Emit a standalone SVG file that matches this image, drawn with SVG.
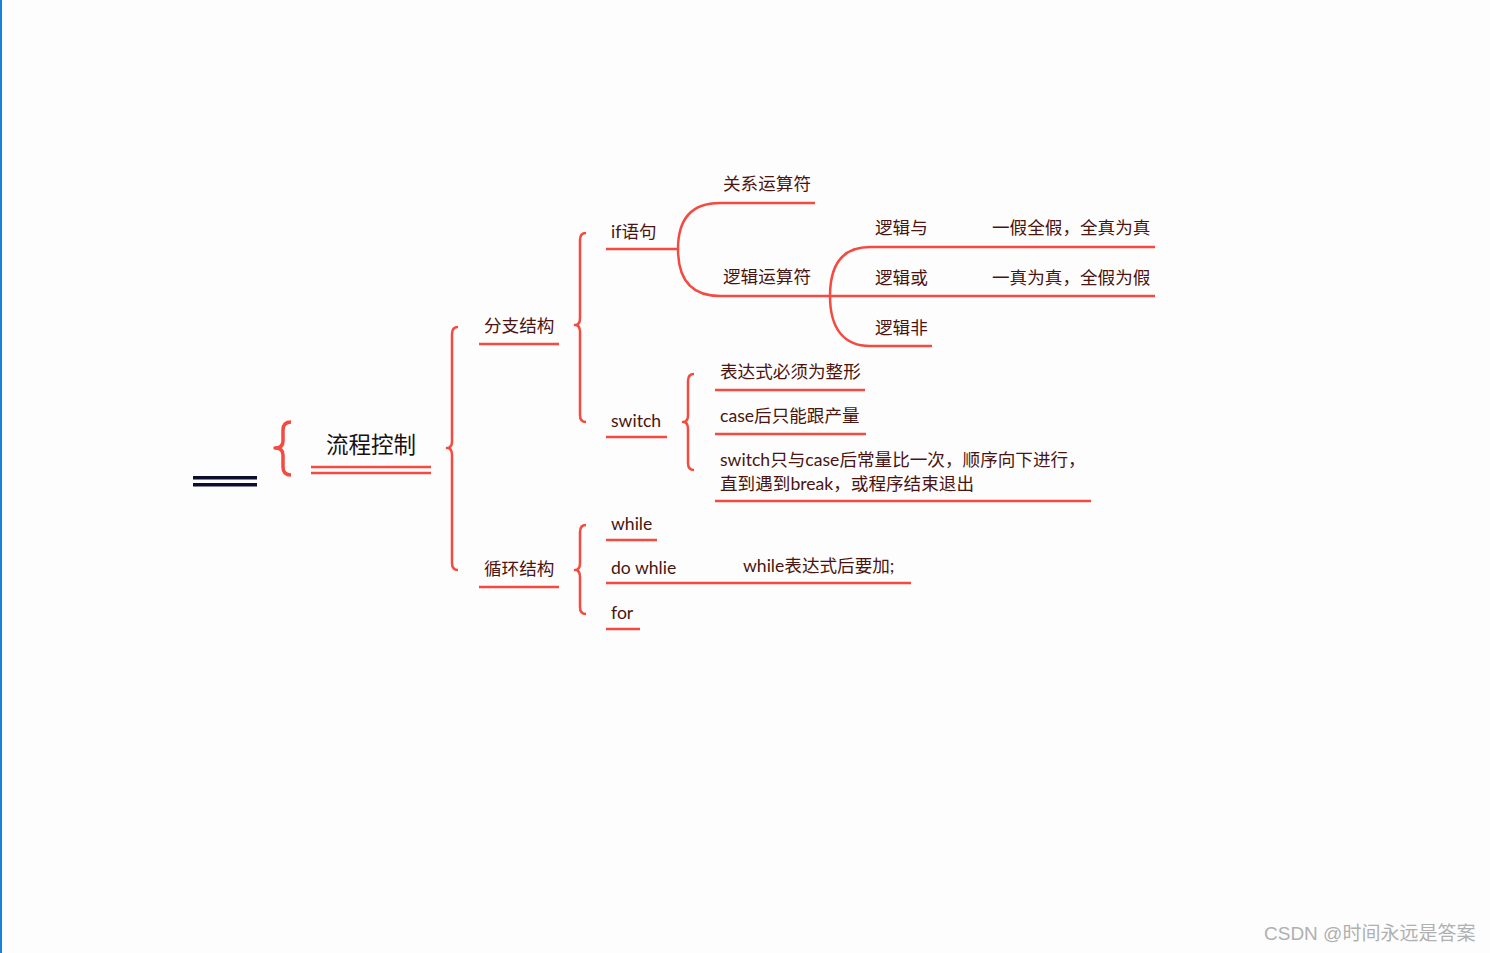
<svg xmlns="http://www.w3.org/2000/svg" width="1490" height="953" viewBox="0 0 1490 953">
<style>
.ln{fill:none;stroke:#f44a3f;stroke-width:2.5;stroke-linecap:butt}
.br{fill:none;stroke:#f44a3f;stroke-width:2.5;stroke-linejoin:round}
.t{font-family:"Lato","Noto Sans CJK SC",sans-serif;font-size:17.6px;fill:#4a1410}
.root{font-family:"Lato","Noto Sans CJK SC",sans-serif;font-size:22.5px;fill:#1a1010}
.wm{font-family:"Liberation Sans","Noto Sans CJK SC",sans-serif;font-size:19px;fill:#b0b0b0}
</style>
<rect x="0" y="0" width="1490" height="953" fill="#fdfdfd"/>
<rect x="0" y="0" width="2" height="953" fill="#1a82d6"/>

<g id="connectors">
<path class="br" d="M458,327 Q452,327 452,334 L452,441 Q452,448 447,448 Q452,448 452,455 L452,563 Q452,570 458,570"/>
<path class="br" d="M586,233 Q580,233 580,240 L580,318 Q580,325 575,325 Q580,325 580,332 L580,415 Q580,422 586,422"/>
<path class="br" d="M694,374 Q688,374 688,381 L688,415 Q688,422 683,422 Q688,422 688,429 L688,463 Q688,470 694,470"/>
<path class="br" d="M586,525 Q580,525 580,532 L580,563 Q580,570 575,570 Q580,570 580,577 L580,607 Q580,614 586,614"/>
<path class="ln" d="M678,249 C678,215 695,203 720,203 L815,203"/>
<path class="ln" d="M678,249 C678,283 695,296 720,296 L830,296"/>
<path class="ln" d="M830,296 C830,262 845,247 870,247 L1155,247"/>
<path class="ln" d="M830,296 L1155,296"/>
<path class="ln" d="M830,296 C830,330 845,346 870,346 L932,346"/>
</g>

<g id="root">
<rect x="193" y="476" width="64" height="3.5" fill="#0d0d30"/>
<rect x="193" y="483" width="64" height="3.5" fill="#0d0d30"/>
<path d="M291,422 Q283,422 283,430 L283,441 Q283,448 275,448 Q283,448 283,455 L283,467 Q283,475 291,475" fill="none" stroke="#f44a3f" stroke-width="3.5" stroke-linejoin="round"/>
<text class="root" x="326" y="453">流程控制</text>
<line class="ln" x1="311" y1="467" x2="431" y2="467"/>
<line class="ln" x1="311" y1="473" x2="431" y2="473"/>
</g>

<g id="branch">
<text class="t" x="484" y="332">分支结构</text>
<line class="ln" x1="479" y1="344" x2="559" y2="344"/>
</g>
<g id="loop">
<text class="t" x="484" y="575">循环结构</text>
<line class="ln" x1="479" y1="587" x2="559" y2="587"/>
</g>

<g id="if">
<text class="t" x="611" y="238">if语句</text>
<line class="ln" x1="606" y1="249" x2="678" y2="249"/>
</g>
<g id="rel"><text class="t" x="723" y="190">关系运算符</text></g>
<g id="logic"><text class="t" x="723" y="283">逻辑运算符</text></g>
<g id="and"><text class="t" x="875" y="234">逻辑与</text><text class="t" x="992" y="234">一假全假，全真为真</text></g>
<g id="or"><text class="t" x="875" y="284">逻辑或</text><text class="t" x="992" y="284">一真为真，全假为假</text></g>
<g id="not"><text class="t" x="875" y="334">逻辑非</text></g>

<g id="switch">
<text class="t" x="611" y="427">switch</text>
<line class="ln" x1="606" y1="437" x2="667" y2="437"/>
</g>
<g id="sw1">
<text class="t" x="720" y="378">表达式必须为整形</text>
<line class="ln" x1="715" y1="390" x2="865" y2="390"/>
</g>
<g id="sw2">
<text class="t" x="720" y="422">case后只能跟产量</text>
<line class="ln" x1="715" y1="434" x2="866" y2="434"/>
</g>
<g id="sw3">
<text class="t" x="720" y="466">switch只与case后常量比一次，顺序向下进行，</text>
<text class="t" x="720" y="490">直到遇到break，或程序结束退出</text>
<line class="ln" x1="715" y1="501" x2="1091" y2="501"/>
</g>

<g id="while">
<text class="t" x="611" y="530">while</text>
<line class="ln" x1="606" y1="540" x2="657" y2="540"/>
</g>
<g id="dowhile">
<text class="t" x="611" y="574">do whlie</text>
<text class="t" x="743" y="572">while表达式后要加;</text>
<line class="ln" x1="606" y1="583" x2="911" y2="583"/>
</g>
<g id="for">
<text class="t" x="611" y="619">for</text>
<line class="ln" x1="606" y1="629" x2="640" y2="629"/>
</g>

<text class="wm" x="1264" y="940">CSDN @时间永远是答案</text>
</svg>
